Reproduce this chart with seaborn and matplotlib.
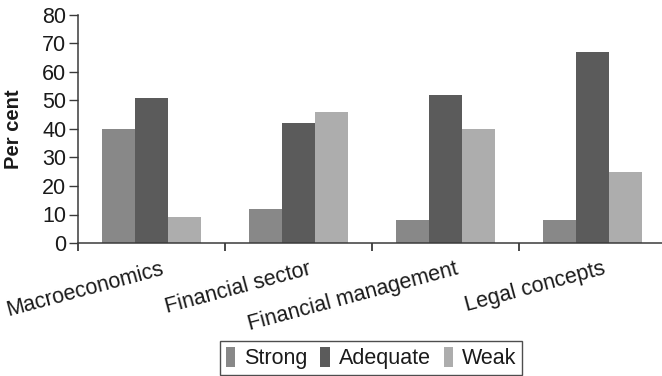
import matplotlib
matplotlib.use("Agg")
import matplotlib.pyplot as plt
import matplotlib.transforms as mtransforms
from matplotlib.ticker import FixedLocator, MultipleLocator
import seaborn as sns
import pandas as pd

# Survey results: share of respondents rating each skill area
categories = ["Macroeconomics", "Financial sector", "Financial management", "Legal concepts"]
levels = ["Strong", "Adequate", "Weak"]
strong = [40, 12, 8, 8]
adequate = [51, 42, 52, 67]
weak = [9, 46, 40, 25]
colors = ["#888888", "#5b5b5b", "#adadad"]

df = pd.DataFrame({
    "Area": categories * 3,
    "Rating": [lvl for lvl in levels for _ in categories],
    "Percent": strong + adequate + weak,
})

sns.set_style("white")
plt.rcParams["font.family"] = ["Liberation Sans", "DejaVu Sans"]

fig = plt.figure(figsize=(6.62, 3.76), dpi=100)
ax = fig.add_axes([78 / 662, (376 - 243) / 376, 588 / 662, 228 / 376])

sns.barplot(data=df, x="Area", y="Percent", hue="Rating", hue_order=levels,
            order=categories, palette=colors, width=0.667, saturation=1,
            linewidth=0, ax=ax)

ax.set_xlim(-0.5, 3.5)
ax.set_ylim(0, 80)
ax.yaxis.set_major_locator(MultipleLocator(10))

for side in ["top", "right"]:
    ax.spines[side].set_visible(False)
for side in ["left", "bottom"]:
    ax.spines[side].set_color("#3a3a3a")
    ax.spines[side].set_linewidth(1.1)

ax.tick_params(axis="y", which="major", direction="out", length=6.5, width=1,
               color="#3a3a3a", labelsize=15.5, labelcolor="#1a1a1a", pad=2, left=True)
# category separators as minor ticks, labels centred under each group
ax.xaxis.set_minor_locator(FixedLocator([-0.5, 0.5, 1.5, 2.5, 3.5]))
ax.tick_params(axis="x", which="minor", direction="out", length=6, width=1.3,
               color="#3a3a3a", bottom=True)
ax.tick_params(axis="x", which="major", length=0, labelsize=15.5,
               labelcolor="#1a1a1a", pad=11)

offset = mtransforms.ScaledTranslation(15 / 100, 0, fig.dpi_scale_trans)
for lab in ax.get_xticklabels():
    lab.set_rotation(15)
    lab.set_ha("right")
    lab.set_transform(lab.get_transform() + offset)

ax.set_xlabel("")
ax.set_ylabel("Per cent", fontsize=14.5, fontweight="bold", color="#1a1a1a")
ax.yaxis.set_label_coords(-55 / 588, 0.5)

ax.legend_.remove()
handles, labels = ax.get_legend_handles_labels()
leg = fig.legend(handles, labels, loc="center", ncol=3,
                 bbox_to_anchor=(371 / 662, 1 - 358 / 376),
                 frameon=True, fancybox=False, fontsize=15.5,
                 handlelength=0.45, handleheight=1.05, handletextpad=0.4,
                 columnspacing=0.6, borderpad=0.25, borderaxespad=0)
leg.get_frame().set_edgecolor("#222222")
leg.get_frame().set_linewidth(1.0)
for t in leg.get_texts():
    t.set_color("#1a1a1a")

fig.savefig("out.png", dpi=100)
